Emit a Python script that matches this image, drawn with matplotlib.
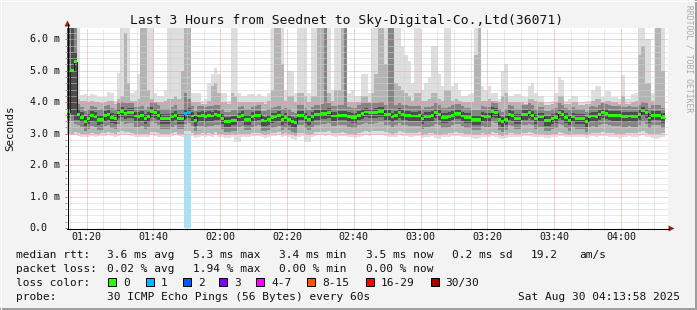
import numpy as np
import matplotlib
matplotlib.use('Agg')
import matplotlib.pyplot as plt
from matplotlib.patches import Rectangle, Polygon
from matplotlib.lines import Line2D
from matplotlib.transforms import blended_transform_factory

# --- donnees (ms, un echantillon par minute) ---
median_ms = [
    3.70, 5.02, 5.29, 3.62, 3.52, 3.39, 3.47, 3.58, 3.53, 3.45,
    3.46, 3.57, 3.62, 3.52, 3.48, 3.66, 3.71, 3.65, 3.68, 3.67,
    3.56, 3.54, 3.57, 3.48, 3.54, 3.71, 3.66, 3.59, 3.49, 3.49,
    3.49, 3.53, 3.59, 3.47, 3.47, 3.64, 3.67, 3.56, 3.41, 3.56,
    3.58, 3.54, 3.58, 3.56, 3.61, 3.59, 3.49, 3.38, 3.38, 3.43,
    3.43, 3.53, 3.57, 3.46, 3.46, 3.54, 3.58, 3.59, 3.42, 3.40,
    3.46, 3.52, 3.53, 3.57, 3.46, 3.51, 3.46, 3.38, 3.35, 3.59,
    3.59, 3.51, 3.44, 3.55, 3.61, 3.61, 3.63, 3.63, 3.68, 3.56,
    3.56, 3.59, 3.59, 3.59, 3.54, 3.51, 3.51, 3.59, 3.65, 3.69,
    3.66, 3.66, 3.67, 3.71, 3.71, 3.61, 3.60, 3.53, 3.59, 3.68,
    3.61, 3.59, 3.58, 3.56, 3.56, 3.58, 3.49, 3.54, 3.54, 3.57,
    3.66, 3.61, 3.52, 3.52, 3.55, 3.59, 3.63, 3.63, 3.56, 3.51,
    3.51, 3.44, 3.44, 3.44, 3.56, 3.53, 3.53, 3.71, 3.67, 3.46,
    3.38, 3.46, 3.62, 3.57, 3.47, 3.47, 3.60, 3.60, 3.66, 3.59,
    3.47, 3.53, 3.53, 3.42, 3.41, 3.47, 3.51, 3.66, 3.60, 3.52,
    3.43, 3.53, 3.47, 3.47, 3.47, 3.39, 3.53, 3.56, 3.54, 3.61,
    3.66, 3.63, 3.59, 3.57, 3.57, 3.57, 3.54, 3.55, 3.56, 3.54,
    3.54, 3.62, 3.72, 3.66, 3.50, 3.59, 3.59, 3.59, 3.51,
]

# ping le plus haut (fumee la plus claire)
rtt_max = [
    6.5, 6.5, 6.5, 6.5, 4.23, 4.25, 4.2, 4.25, 4.22, 4.18,
    4.15, 4.18, 4.33, 4.3, 4.05, 4.92, 6.5, 6.5, 6.5, 4.3,
    4.35, 4.9, 6.5, 6.5, 6.5, 6.5, 4.3, 4.2, 4.2, 4.4,
    6.5, 6.5, 6.5, 6.5, 6.5, 6.5, 6.5, 4.3, 4.3, 4.3,
    4.05, 4.1, 4.6, 4.9, 5.1, 4.9, 4.3, 4.3, 4.05, 6.5,
    6.5, 4.3, 4.2, 4.2, 4.25, 4.25, 4.2, 4.25, 4.2, 4.15,
    4.3, 6.5, 6.5, 6.5, 6.5, 4.4, 5.0, 5.0, 4.3, 6.5,
    6.5, 6.5, 4.3, 6.5, 6.5, 6.5, 6.5, 6.5, 6.5, 4.4,
    6.5, 6.5, 6.5, 6.5, 4.3, 4.4, 4.2, 4.2, 4.9, 4.9,
    4.3, 6.5, 6.5, 6.5, 6.5, 6.5, 6.5, 6.5, 6.5, 6.5,
    5.8, 5.5, 5.3, 4.6, 6.5, 6.5, 4.4, 4.6, 4.8, 5.8,
    5.8, 4.9, 4.5, 6.5, 6.5, 4.5, 4.6, 4.4, 4.2, 4.2,
    4.25, 4.3, 6.5, 6.5, 4.5, 4.4, 4.5, 4.3, 4.3, 4.1,
    5.0, 5.2, 4.2, 4.2, 4.25, 4.25, 4.2, 4.15, 4.5, 4.6,
    4.3, 4.2, 4.2, 4.0, 4.0, 4.05, 4.3, 4.8, 4.7, 4.05,
    4.1, 4.2, 4.2, 4.0, 4.0, 4.05, 4.05, 4.4, 4.5, 4.5,
    4.15, 4.35, 4.35, 4.15, 4.15, 4.1, 4.85, 4.1, 4.1, 4.25,
    4.3, 6.5, 6.5, 6.0, 6.0, 4.3, 6.5, 6.5, 6.5,
]

# haut de la fumee grise moyenne
rtt_p2 = [
    6.5, 6.5, 6.5, 4.1, 4.05, 4.05, 4.0, 4.05, 4.0, 4.0,
    3.98, 4.0, 4.05, 4.05, 3.95, 4.1, 4.2, 6.2, 4.6, 4.05,
    4.05, 4.1, 6.5, 6.5, 4.4, 4.1, 4.0, 4.0, 4.0, 4.05,
    4.1, 4.1, 4.2, 4.1, 5.0, 6.5, 6.5, 4.0, 4.0, 4.0,
    3.95, 3.95, 4.05, 4.5, 4.6, 4.3, 4.0, 4.0, 3.95, 4.3,
    4.2, 4.0, 4.0, 4.0, 4.0, 4.0, 4.0, 4.0, 4.0, 3.95,
    4.05, 4.4, 6.5, 6.4, 5.2, 4.05, 4.2, 4.2, 4.0, 4.3,
    4.3, 4.2, 4.0, 4.2, 4.2, 6.5, 6.5, 6.5, 4.3, 4.05,
    4.4, 4.4, 6.5, 6.5, 4.0, 4.0, 4.0, 4.0, 4.2, 4.2,
    4.0, 4.3, 4.9, 6.5, 6.5, 5.2, 6.5, 6.5, 4.6, 4.5,
    4.4, 4.3, 4.2, 4.05, 4.3, 4.3, 4.05, 4.05, 4.1, 4.3,
    4.3, 4.1, 4.05, 4.4, 4.4, 4.05, 4.1, 4.05, 4.0, 4.0,
    4.0, 4.0, 5.5, 6.5, 4.05, 4.05, 4.1, 4.05, 4.05, 4.0,
    4.2, 4.3, 4.0, 4.0, 4.0, 4.0, 4.0, 3.95, 4.1, 4.1,
    4.05, 4.0, 4.0, 3.9, 3.9, 3.95, 4.0, 4.2, 4.2, 3.95,
    3.95, 4.0, 4.0, 3.9, 3.9, 3.95, 3.95, 4.05, 4.1, 4.1,
    4.0, 4.05, 4.05, 4.0, 4.0, 3.95, 4.2, 3.95, 3.95, 4.0,
    4.05, 5.5, 5.8, 4.6, 4.6, 4.05, 6.5, 6.5, 5.0,
]

# ping le plus bas
rtt_min = [
    2.95, 2.95, 2.95, 2.92, 2.9, 2.88, 2.9, 2.92, 2.9, 2.92,
    2.92, 2.93, 2.95, 2.93, 2.9, 2.93, 2.95, 2.95, 2.95, 2.93,
    2.9, 2.88, 2.9, 2.88, 2.9, 2.95, 2.93, 2.9, 2.88, 2.9,
    2.9, 2.92, 2.95, 2.92, 2.9, 2.98, 2.98, 2.93, 2.85, 2.9,
    2.92, 2.9, 2.93, 2.9, 2.95, 2.9, 2.88, 2.85, 2.85, 2.9,
    2.72, 2.72, 2.88, 2.9, 2.9, 2.92, 2.93, 2.92, 2.88, 2.85,
    2.9, 2.93, 2.93, 2.95, 2.9, 2.93, 2.88, 2.82, 2.8, 2.9,
    2.92, 2.72, 2.72, 2.88, 2.93, 2.95, 2.95, 2.93, 2.95, 2.92,
    2.9, 2.92, 2.93, 2.92, 2.9, 2.88, 2.85, 2.9, 2.93, 2.95,
    2.93, 2.95, 2.95, 2.97, 2.95, 2.92, 2.9, 2.88, 2.9, 2.95,
    2.93, 2.92, 2.9, 2.9, 2.92, 2.93, 2.85, 2.88, 2.9, 2.92,
    2.85, 2.82, 2.9, 2.88, 2.9, 2.92, 2.93, 2.92, 2.9, 2.88,
    2.88, 2.85, 2.82, 2.85, 2.9, 2.9, 2.9, 2.92, 2.9, 2.85,
    2.82, 2.85, 2.9, 2.9, 2.88, 2.88, 2.92, 2.92, 2.93, 2.9,
    2.88, 2.9, 2.9, 2.85, 2.85, 2.88, 2.9, 2.93, 2.92, 2.9,
    2.88, 2.9, 2.9, 2.88, 2.88, 2.85, 2.9, 2.92, 2.9, 2.92,
    2.93, 2.92, 2.9, 2.9, 2.88, 2.85, 2.88, 2.9, 2.92, 2.9,
    2.9, 2.93, 2.95, 2.9, 2.88, 2.85, 2.82, 2.85, 2.9,
]

# bas de la fumee grise moyenne
rtt_lo = [
    3.0, 3.0, 3.05, 3.02, 3.0, 2.98, 3.0, 3.02, 3.0, 3.0,
    3.02, 3.03, 3.05, 3.03, 3.0, 3.05, 3.07, 3.05, 3.05, 3.03,
    3.0, 2.98, 3.0, 2.98, 3.0, 3.05, 3.05, 3.02, 2.98, 3.0,
    3.0, 3.02, 3.05, 3.0, 3.0, 3.08, 3.08, 3.03, 2.95, 3.0,
    3.03, 3.0, 3.03, 3.0, 3.05, 3.0, 2.98, 2.95, 2.95, 3.0,
    2.95, 2.98, 3.0, 3.0, 3.0, 3.02, 3.03, 3.02, 2.98, 2.95,
    3.0, 3.03, 3.03, 3.05, 3.0, 3.02, 2.98, 2.95, 2.92, 3.02,
    3.03, 3.0, 2.95, 3.0, 3.05, 3.05, 3.05, 3.05, 3.07, 3.03,
    3.02, 3.03, 3.05, 3.03, 3.0, 3.0, 2.97, 3.02, 3.05, 3.07,
    3.05, 3.07, 3.07, 3.1, 3.08, 3.05, 3.02, 3.0, 3.02, 3.07,
    3.05, 3.03, 3.02, 3.02, 3.03, 3.05, 2.97, 3.0, 3.02, 3.03,
    3.0, 2.97, 3.0, 3.0, 3.02, 3.03, 3.05, 3.03, 3.02, 3.0,
    3.0, 2.97, 2.95, 2.97, 3.02, 3.0, 3.0, 3.05, 3.03, 2.97,
    2.92, 2.97, 3.03, 3.02, 3.0, 3.0, 3.03, 3.03, 3.05, 3.02,
    3.0, 3.0, 3.0, 2.97, 2.95, 2.98, 3.0, 3.05, 3.03, 3.0,
    2.97, 3.0, 3.0, 2.98, 2.98, 2.95, 3.0, 3.03, 3.02, 3.03,
    3.05, 3.03, 3.02, 3.02, 3.0, 3.0, 3.0, 3.02, 3.03, 3.02,
    3.02, 3.05, 3.07, 3.03, 3.0, 3.0, 2.98, 3.0, 3.02,
]

# bande foncee (quartiles)
rtt_q1 = [
    3.35, 3.4, 3.3, 3.28, 3.2, 3.08, 3.15, 3.25, 3.2, 3.12,
    3.13, 3.24, 3.28, 3.19, 3.16, 3.32, 3.37, 3.31, 3.34, 3.33,
    3.22, 3.21, 3.24, 3.15, 3.2, 3.37, 3.33, 3.26, 3.16, 3.16,
    3.16, 3.2, 3.26, 3.14, 3.14, 3.3, 3.33, 3.23, 3.08, 3.23,
    3.25, 3.21, 3.25, 3.23, 3.28, 3.26, 3.16, 3.05, 3.05, 3.1,
    3.1, 3.2, 3.24, 3.13, 3.13, 3.21, 3.25, 3.26, 3.09, 3.07,
    3.13, 3.19, 3.2, 3.24, 3.13, 3.18, 3.13, 3.05, 3.02, 3.26,
    3.26, 3.18, 3.11, 3.22, 3.28, 3.28, 3.3, 3.3, 3.34, 3.23,
    3.23, 3.26, 3.26, 3.26, 3.21, 3.18, 3.18, 3.26, 3.31, 3.35,
    3.32, 3.32, 3.33, 3.37, 3.37, 3.28, 3.27, 3.2, 3.26, 3.34,
    3.28, 3.26, 3.25, 3.23, 3.23, 3.25, 3.16, 3.21, 3.21, 3.24,
    3.32, 3.28, 3.19, 3.19, 3.22, 3.26, 3.3, 3.3, 3.23, 3.18,
    3.18, 3.11, 3.11, 3.11, 3.23, 3.2, 3.2, 3.37, 3.33, 3.13,
    3.05, 3.13, 3.28, 3.24, 3.14, 3.14, 3.27, 3.27, 3.32, 3.26,
    3.14, 3.2, 3.2, 3.09, 3.08, 3.14, 3.18, 3.32, 3.27, 3.19,
    3.1, 3.2, 3.14, 3.14, 3.14, 3.06, 3.2, 3.23, 3.21, 3.28,
    3.32, 3.3, 3.26, 3.24, 3.24, 3.24, 3.21, 3.22, 3.23, 3.21,
    3.21, 3.28, 3.38, 3.32, 3.17, 3.26, 3.26, 3.26, 3.18,
]

rtt_q3 = [
    6.5, 6.5, 6.5, 3.95, 3.85, 3.72, 3.78, 3.88, 3.84, 3.76,
    3.77, 3.88, 3.92, 3.83, 3.78, 3.96, 4.0, 3.96, 3.98, 3.97,
    3.86, 3.85, 3.88, 3.79, 3.85, 4.0, 3.96, 3.9, 3.8, 3.8,
    3.8, 3.84, 3.9, 3.78, 3.78, 4.3, 4.1, 3.87, 3.72, 3.87,
    3.88, 3.85, 3.88, 3.87, 3.92, 3.9, 3.8, 3.7, 3.7, 3.74,
    3.74, 3.84, 3.88, 3.77, 3.77, 3.85, 3.88, 3.9, 3.73, 3.71,
    3.77, 3.83, 3.84, 3.88, 3.77, 3.82, 3.77, 3.7, 3.67, 3.9,
    3.9, 3.82, 3.75, 3.86, 3.92, 3.92, 3.94, 6.5, 3.98, 3.87,
    3.87, 3.9, 3.9, 6.5, 3.85, 3.82, 3.82, 3.9, 3.96, 3.99,
    3.96, 3.96, 3.97, 4.01, 4.01, 3.92, 6.5, 6.5, 3.9, 3.98,
    3.92, 3.9, 3.88, 3.87, 3.87, 3.88, 3.8, 3.85, 3.85, 3.88,
    3.96, 3.92, 3.83, 3.83, 3.86, 3.9, 3.94, 3.94, 3.87, 3.82,
    3.82, 3.75, 3.75, 3.75, 3.87, 3.84, 3.84, 4.01, 3.97, 3.77,
    3.7, 3.77, 3.92, 3.88, 3.78, 3.78, 3.91, 3.91, 3.96, 3.9,
    3.78, 3.84, 3.84, 3.73, 3.72, 3.78, 3.82, 3.96, 3.91, 3.83,
    3.74, 3.84, 3.78, 3.78, 3.78, 3.7, 3.84, 3.87, 3.85, 3.92,
    3.96, 3.94, 3.9, 3.88, 3.88, 3.88, 3.85, 3.86, 3.87, 3.85,
    3.85, 3.92, 4.02, 3.96, 3.81, 3.9, 3.9, 3.9, 3.82,
]

# coeur le plus fonce
rtt_c1 = [
    3.5, 3.6, 3.45, 3.45, 3.36, 3.24, 3.3, 3.4, 3.36, 3.28,
    3.3, 3.4, 3.45, 3.35, 3.31, 3.49, 3.54, 3.48, 3.51, 3.5,
    3.39, 3.37, 3.4, 3.31, 3.37, 3.54, 3.49, 3.42, 3.32, 3.32,
    3.32, 3.36, 3.42, 3.3, 3.3, 3.47, 3.5, 3.39, 3.24, 3.39,
    3.41, 3.37, 3.41, 3.39, 3.44, 3.42, 3.32, 3.21, 3.21, 3.26,
    3.26, 3.36, 3.4, 3.29, 3.29, 3.37, 3.41, 3.42, 3.25, 3.23,
    3.29, 3.35, 3.36, 3.4, 3.29, 3.34, 3.29, 3.21, 3.18, 3.42,
    3.42, 3.34, 3.27, 3.38, 3.44, 3.44, 3.46, 3.46, 3.51, 3.39,
    3.39, 3.42, 3.42, 3.42, 3.37, 3.34, 3.34, 3.42, 3.48, 3.52,
    3.49, 3.49, 3.5, 3.54, 3.54, 3.44, 3.43, 3.36, 3.42, 3.51,
    3.44, 3.42, 3.41, 3.39, 3.39, 3.41, 3.32, 3.37, 3.37, 3.4,
    3.49, 3.44, 3.35, 3.35, 3.38, 3.42, 3.46, 3.46, 3.39, 3.34,
    3.34, 3.27, 3.27, 3.27, 3.39, 3.36, 3.36, 3.54, 3.5, 3.29,
    3.21, 3.29, 3.45, 3.4, 3.3, 3.3, 3.43, 3.43, 3.49, 3.42,
    3.3, 3.36, 3.36, 3.25, 3.24, 3.3, 3.34, 3.49, 3.43, 3.35,
    3.26, 3.36, 3.3, 3.3, 3.3, 3.22, 3.36, 3.39, 3.37, 3.44,
    3.49, 3.46, 3.42, 3.4, 3.4, 3.4, 3.37, 3.38, 3.39, 3.37,
    3.37, 3.45, 3.55, 3.49, 3.33, 3.42, 3.42, 3.42, 3.34,
]

rtt_c3 = [
    6.5, 6.5, 5.6, 3.78, 3.68, 3.55, 3.62, 3.72, 3.68, 3.6,
    3.6, 3.72, 3.76, 3.67, 3.62, 3.8, 3.85, 3.8, 3.82, 3.81,
    3.7, 3.68, 3.71, 3.62, 3.68, 3.85, 3.8, 3.73, 3.63, 3.63,
    3.63, 3.67, 3.73, 3.61, 3.61, 3.8, 3.81, 3.7, 3.55, 3.7,
    3.72, 3.68, 3.72, 3.7, 3.75, 3.73, 3.63, 3.52, 3.52, 3.57,
    3.57, 3.67, 3.71, 3.6, 3.6, 3.68, 3.72, 3.73, 3.56, 3.54,
    3.6, 3.66, 3.67, 3.71, 3.6, 3.65, 3.6, 3.52, 3.49, 3.73,
    3.73, 3.65, 3.58, 3.69, 3.75, 3.75, 3.77, 3.77, 3.82, 3.7,
    3.7, 3.73, 3.73, 3.73, 3.68, 3.65, 3.65, 3.73, 3.79, 3.83,
    3.8, 3.8, 3.81, 3.85, 3.85, 3.75, 3.74, 3.67, 3.73, 3.82,
    3.75, 3.73, 3.72, 3.7, 3.7, 3.72, 3.63, 3.68, 3.68, 3.71,
    3.8, 3.75, 3.66, 3.66, 3.69, 3.73, 3.77, 3.77, 3.7, 3.65,
    3.65, 3.58, 3.58, 3.58, 3.7, 3.67, 3.67, 3.85, 3.81, 3.6,
    3.52, 3.6, 3.76, 3.71, 3.61, 3.61, 3.74, 3.74, 3.8, 3.73,
    3.61, 3.67, 3.67, 3.56, 3.55, 3.61, 3.65, 3.8, 3.74, 3.66,
    3.57, 3.67, 3.61, 3.61, 3.61, 3.53, 3.67, 3.7, 3.68, 3.75,
    3.8, 3.77, 3.73, 3.71, 3.71, 3.71, 3.68, 3.69, 3.7, 3.68,
    3.68, 3.76, 3.86, 3.8, 3.64, 3.73, 3.73, 3.73, 3.65,
]

# echantillons avec perte (indice, nombre de pings perdus)
loss_idx = [35, 36]
loss_cnt = [1, 1]

start_min = 74.1  # 01:14:06 en minutes
tick_min = [80, 100, 120, 140, 160, 180, 200, 220, 240]
tick_lab = ['01:20', '01:40', '02:00', '02:20', '02:40', '03:00', '03:20', '03:40', '04:00']
ytick_val = [0, 1, 2, 3, 4, 5, 6]
ytick_lab = ['0.0', '1.0 m', '2.0 m', '3.0 m', '4.0 m', '5.0 m', '6.0 m']

loss_names = ['0', '1', '2', '3', '4-7', '8-15', '16-29', '30/30']
loss_colors = ['#26ff00', '#00b8ff', '#0059ff', '#7e00ff', '#ff00ff', '#ff5500', '#ff0000', '#a10000']

# --- mise en page en pixels ---
W, H = 697, 310
def fx(x):
    return x / W
def fy(y):
    return 1 - y / H

MONO = 'DejaVu Sans Mono'
BG = '#f3f3f3'
MGRID = '#f0a0a0'
GRID = '#d2d2d2'
px = 0.72  # 1 pixel en points

fig = plt.figure(figsize=(W / 100, H / 100), dpi=100, facecolor=BG)
ax = fig.add_axes([fx(67), fy(228), 601 / W, 200 / H])
ax.set_facecolor('white')
ax.set_xlim(start_min, start_min + 180)
ax.set_ylim(0, 6.36)
for s in ax.spines.values():
    s.set_visible(False)

# petites graduations sous les axes
ax.set_xticks(tick_min)
ax.set_xticks(np.arange(75, start_min + 180, 5), minor=True)
ax.set_yticks(ytick_val)
ax.set_yticks(np.arange(0, 6.36, 0.2), minor=True)
ax.tick_params(which='both', labelbottom=False, labelleft=False, direction='out',
               width=px, length=2 * px)
ax.tick_params(which='major', color='#d06060')
ax.tick_params(which='minor', color='#a0a0a0')

n = len(median_ms)
edges = start_min + np.arange(n + 1)
med = np.array(median_ms)

# barres de perte en fond
for i, c in zip(loss_idx, loss_cnt):
    ax.axvspan(edges[i], edges[i + 1], color='#a6e2fa', lw=0, zorder=0.5)

# fumee
layers = [
    (rtt_min, rtt_max, '#dedede'),
    (rtt_lo, rtt_p2, '#b4b4b4'),
    (rtt_q1, rtt_q3, '#858585'),
    (rtt_c1, rtt_c3, '#4d4d4d'),
]
for lo, hi, col in layers:
    ax.stairs(hi, edges, baseline=lo, fill=True, color=col, lw=0, zorder=1)

# grille pointillee
for v in np.arange(0.2, 6.36, 0.2):
    major = abs(v - round(v)) < 1e-6
    ax.axhline(v, color=MGRID if major else GRID, lw=px, ls=(0, (1, 1)), zorder=2)
for t in np.arange(75, start_min + 180, 5):
    major = t in tick_min
    ax.axvline(t, color=MGRID if major else GRID, lw=px, ls=(0, (1, 1)), zorder=2)

# mediane
hw = 0.045
ax.stairs(med, edges, baseline=None, color='#202020', lw=px, zorder=3)
ax.stairs(med + hw, edges, baseline=med - hw, fill=True, color=loss_colors[0], lw=0, zorder=4)
for i, c in zip(loss_idx, loss_cnt):
    ax.bar(edges[i], 2 * hw, bottom=med[i] - hw, width=1, align='edge',
           color=loss_colors[c], lw=0, zorder=5)

# axes et fleches
fig.add_artist(Line2D([fx(67.5), fx(67.5)], [fy(228.5), fy(24)], color='black', lw=px))
fig.add_artist(Line2D([fx(67), fx(669)], [fy(228.5), fy(228.5)], color='black', lw=px))
fig.add_artist(Polygon([(fx(64.5), fy(26.5)), (fx(70.5), fy(26.5)), (fx(67.5), fy(20.5))],
                       closed=True, color='#9c1c1c', lw=0))
fig.add_artist(Polygon([(fx(668.5), fy(225.5)), (fx(668.5), fy(231.5)), (fx(674.5), fy(228.5))],
                       closed=True, color='#9c1c1c', lw=0))

# etiquettes des axes
tx = blended_transform_factory(ax.transData, fig.transFigure)
for t, lab in zip(tick_min, tick_lab):
    ax.text(t, fy(236.8), lab, transform=tx, ha='center', va='center',
            family=MONO, fontsize=7.2, color='#111111')
ty = blended_transform_factory(fig.transFigure, ax.transData)
for v, lab in zip(ytick_val, ytick_lab):
    ax.text(fx(29.5), v, lab, transform=ty, ha='left', va='center',
            family=MONO, fontsize=7.2, color='#111111')

fig.text(fx(10), fy(128), 'Seconds', rotation=90, ha='center', va='center',
         family=MONO, fontsize=7.8, color='#111111')
fig.text(fx(347), fy(24), 'Last 3 Hours from Seednet to Sky-Digital-Co.,Ltd(36071)',
         ha='center', va='baseline', family=MONO, fontsize=9.4, color='#111111')
fig.text(fx(689), fy(5), 'RRDTOOL / TOBI OETIKER', rotation=270, ha='center', va='top',
         family=MONO, fontsize=5.8, color='#a8a8a8')

# legende
LF = 8.0
def leg(x, y, s):
    fig.text(fx(x), fy(y), s, ha='left', va='baseline', family=MONO, fontsize=LF, color='#111111')

leg(16, 258.3, 'median rtt:')
for x, s in zip([107.3, 193.3, 279.3, 365.7, 451.7, 531, 579.3],
                ['3.6 ms avg', '5.3 ms max', '3.4 ms min', '3.5 ms now', '0.2 ms sd', '19.2', 'am/s']):
    leg(x, 258.3, s)
leg(16, 271.7, 'packet loss:')
for x, s in zip([107.3, 193.3, 279.3, 365.7],
                ['0.02 % avg', '1.94 % max', '0.00 % min', '0.00 % now']):
    leg(x, 271.7, s)
leg(16, 286, 'loss color:')
box_x = [108.3, 145.7, 182.7, 219, 256, 307.3, 365.7, 430.7]
for bx, name, col in zip(box_x, loss_names, loss_colors):
    fig.add_artist(Rectangle((fx(bx), fy(286)), 8 / W, 8 / H, facecolor=col,
                             edgecolor='black', lw=px))
    leg(bx + 15, 286, name)
leg(16, 300, 'probe:')
leg(107.3, 300, '30 ICMP Echo Pings (56 Bytes) every 60s')
fig.text(fx(680), fy(300), 'Sat Aug 30 04:13:58 2025', ha='right', va='baseline',
         family=MONO, fontsize=LF, color='#111111')

# cadre
fig.add_artist(Line2D([0, 1], [fy(309), fy(309)], color='#9e9e9e', lw=2 * px))
fig.add_artist(Line2D([fx(696), fx(696)], [0, 1], color='#9e9e9e', lw=2 * px))
fig.add_artist(Line2D([0, 1], [fy(0.5), fy(0.5)], color='#ffffff', lw=px))
fig.add_artist(Line2D([fx(0.5), fx(0.5)], [0, 1], color='#ffffff', lw=px))

fig.savefig('out.png', dpi=100, facecolor=BG)
